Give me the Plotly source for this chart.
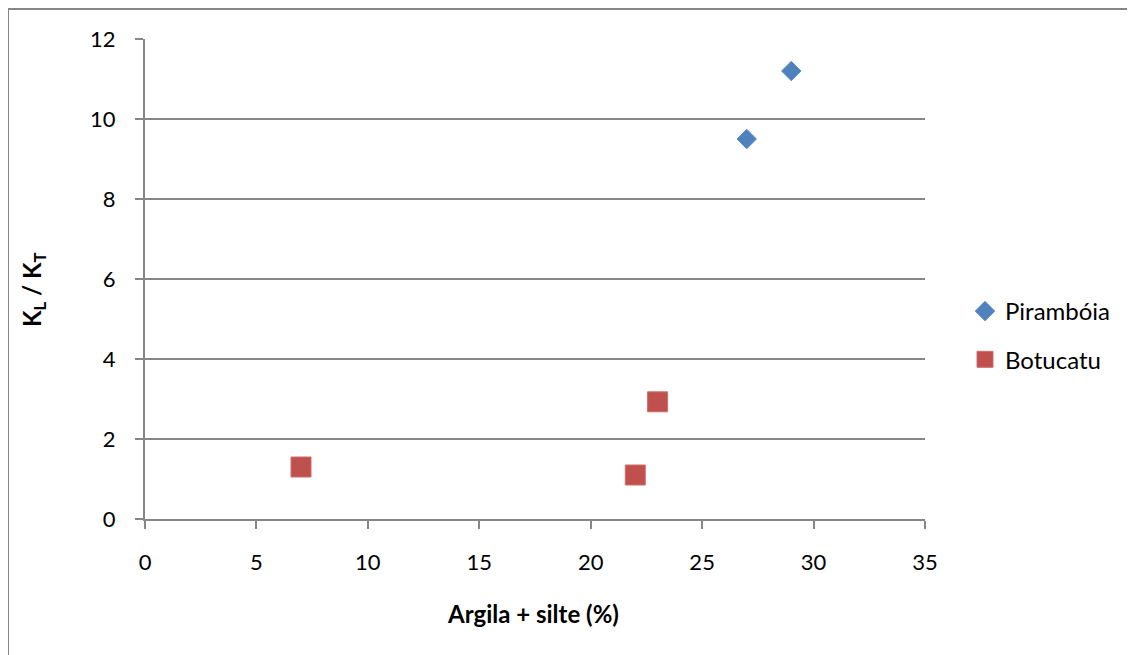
import plotly.graph_objects as go

# Data
piramboia_x = [27, 29]
piramboia_y = [9.5, 11.2]
botucatu_x = [7, 22, 23]
botucatu_y = [1.3, 1.1, 2.93]
series_names = ["Pirambóia", "Botucatu"]
x_title = "Argila + silte (%)"
y_title = "K<sub>L</sub> / K<sub>T</sub>"

FONT = "Lato, 'Open Sans', sans-serif"
GRID = "#868686"
OFF = 8  # page body margin offset

fig = go.Figure()
fig.add_trace(go.Scatter(
    x=piramboia_x, y=piramboia_y, mode="markers", name=series_names[0],
    legendgroup="a",
    marker=dict(symbol="diamond", size=15, color="#4F81BD",
                line=dict(color="#5B8BC6", width=1)),
))
fig.add_trace(go.Scatter(
    x=botucatu_x, y=botucatu_y, mode="markers", name=series_names[1],
    legendgroup="b",
    marker=dict(symbol="square", size=20, color="#C0504D",
                line=dict(color="#CD6F6C", width=1)),
))

W, H = 1135, 655
X0, X1, Y0, Y1 = 145, 925, 519, 39  # reference plot area (pixel)
L, T = X0 - OFF, Y1 - OFF
pw, ph = X1 - X0, Y0 - Y1
R, B = W - L - pw, H - T - ph


def px(x):
    return (x - X0) / pw


def py(y):
    return (Y0 - y) / ph


fig.update_layout(
    width=W, height=H,
    margin=dict(l=L, r=R, t=T, b=B),
    paper_bgcolor="white", plot_bgcolor="white",
    font=dict(family=FONT, size=22, color="black"),
    showlegend=True,
    legend=dict(x=px(965), y=py(289), xanchor="left", yanchor="top",
                font=dict(size=24), tracegroupgap=14, itemsizing="trace",
                bgcolor="rgba(0,0,0,0)"),
    xaxis=dict(range=[0, 35], dtick=5, showgrid=False, zeroline=False,
               showline=True, linecolor=GRID, linewidth=2,
               ticks="outside", ticklen=8, tickwidth=2, tickcolor=GRID,
               ticklabelstandoff=15, tickfont=dict(size=22)),
    yaxis=dict(range=[0, 12], dtick=2, showgrid=True, gridcolor=GRID, gridwidth=1.5,
               zeroline=False, showline=True, linecolor=GRID, linewidth=2,
               ticks="outside", ticklen=8, tickwidth=2, tickcolor=GRID,
               ticklabelstandoff=15, tickfont=dict(size=22)),
    annotations=[
        dict(text="<b>" + x_title + "</b>", xref="paper", yref="paper",
             x=px(533), y=py(613), xanchor="center", yanchor="middle",
             showarrow=False, font=dict(size=24)),
        dict(text="<b>" + y_title + "</b>", xref="paper", yref="paper",
             x=px(33), y=py(290), xanchor="center", yanchor="middle",
             textangle=-90, showarrow=False, font=dict(size=24)),
    ],
    shapes=[
        dict(type="rect", xref="paper", yref="paper",
             x0=px(8), x1=px(1160), y0=py(680), y1=py(9),
             line=dict(color=GRID, width=2), fillcolor="rgba(0,0,0,0)", layer="below"),
    ],
)

fig.write_html("out.html")
